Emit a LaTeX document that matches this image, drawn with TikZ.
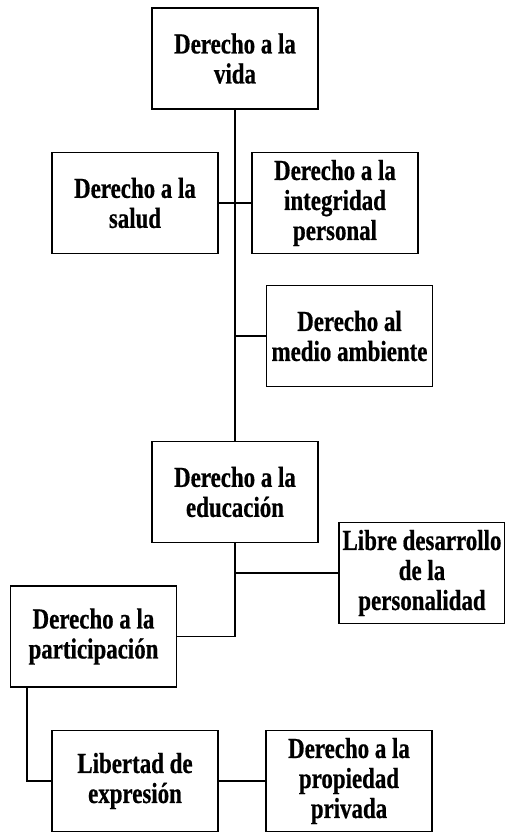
\documentclass[tikz,border=0pt]{standalone}
\usepackage{fontspec}
\setmainfont{Liberation Serif}[FakeStretch=0.79,FakeBold=0.6]
\tikzset{
  derecho/.style={draw, line width=1.5pt, minimum width=166pt, minimum height=101pt,
    inner sep=0pt, align=center, font=\fontsize{29}{30}\selectfont\bfseries},
  enlace/.style={line width=1.5pt}
}
\begin{document}
\begin{tikzpicture}[x=1pt,y=-1pt]
    \useasboundingbox (0,0) rectangle (505,832);

    \node[derecho] (vida) at (235,58.5) {Derecho a la\\vida};
    \node[derecho] (salud) at (135,203) {Derecho a la\\salud};
    \node[derecho] (integridad) at (335,203) {Derecho a la\\integridad\\personal};
    \node[derecho] (medio) at (349.5,336) {Derecho al\\medio ambiente};
    \node[derecho] (educacion) at (235,492) {Derecho a la\\educación};
    \node[derecho] (libre) at (422,573) {Libre desarrollo\\de la\\personalidad};
    \node[derecho] (participacion) at (93.5,636.5) {Derecho a la\\participación};
    \node[derecho] (libertad) at (135,781) {Libertad de\\expresión};
    \node[derecho] (propiedad) at (349,781) {Derecho a la\\propiedad\\privada};

    \coordinate (bajada) at ([xshift=17pt]participacion.south west);

    \draw[enlace] (vida) -- (educacion);
    \draw[enlace] (salud) -- (integridad);
    \draw[enlace] (medio.west) -- (medio.west -| vida.south);
    \draw[enlace] (educacion.south) |- (participacion.east);
    \draw[enlace] (libre.west) -- (libre.west -| educacion.south);
    \draw[enlace] (bajada) |- (libertad.west);
    \draw[enlace] (libertad) -- (propiedad);
\end{tikzpicture}
\end{document}
